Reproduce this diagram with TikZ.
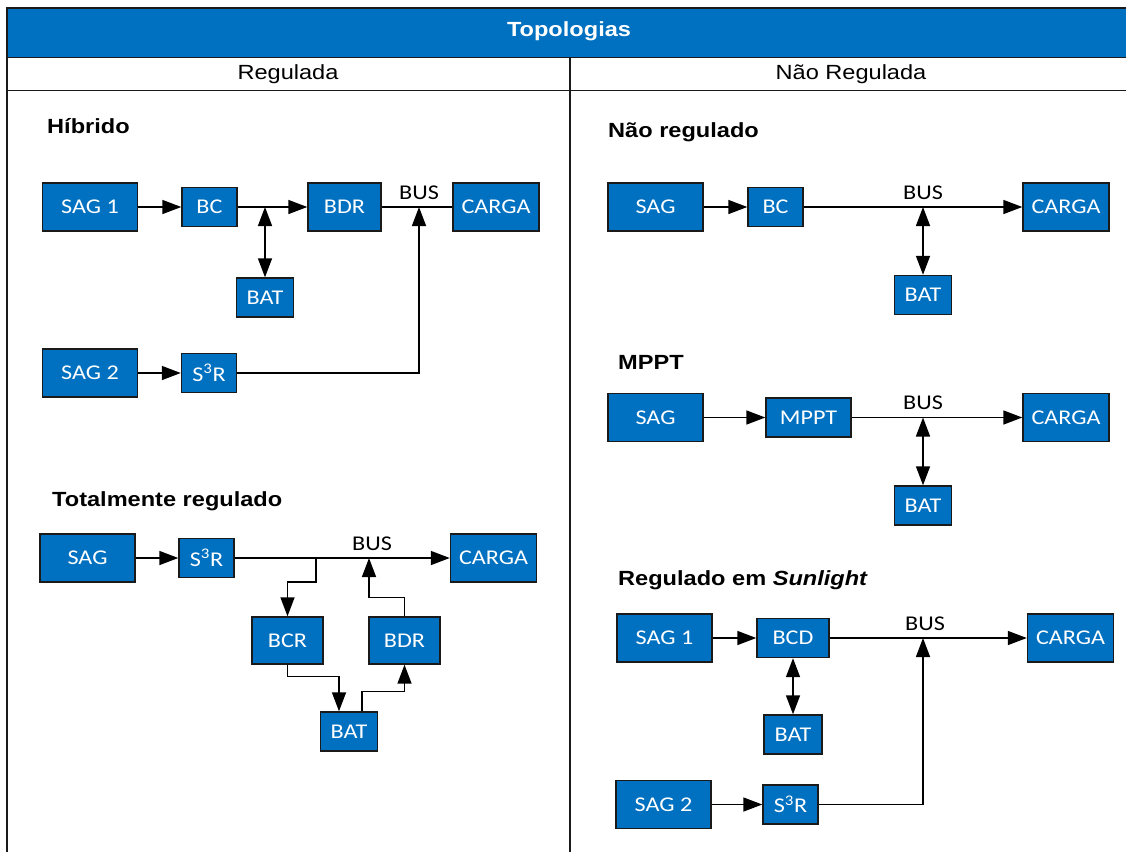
\documentclass[tikz,border=0pt]{standalone}
\usepackage{fontspec}
\usetikzlibrary{arrows.meta}
\newfontfamily\boxfont[FakeStretch=1.15]{Carlito}
\newfontfamily\headfont[FakeStretch=1.15]{Liberation Sans}
\definecolor{boxblue}{HTML}{0070C0}
\definecolor{edge}{HTML}{1A1A1A}
\tikzset{
  blk/.style={draw=edge, line width=1.4pt, fill=boxblue, text=white, inner sep=0pt,
    font=\boxfont\fontsize{21}{24}\selectfont},
  wide/.style={blk, minimum width=95pt, minimum height=48pt},
  conv/.style={blk, minimum width=55pt, minimum height=39pt},
  load/.style={blk, minimum width=86pt, minimum height=48pt},
  batt/.style={blk, minimum width=57pt, minimum height=39pt},
  busl/.style={font=\boxfont\fontsize{21}{24}\selectfont, inner sep=0pt, anchor=base},
  ttl/.style={font=\headfont\bfseries\fontsize{20.5}{24}\selectfont, inner sep=0pt, anchor=base west},
  wire/.style={line width=1.5pt, draw=black},
  tip/.tip={Triangle[length=19pt, width=14pt]},
  arr/.style={wire, -tip},
  dbl/.style={wire, tip-tip},
  grid/.style={line width=1.8pt, draw=edge},
}
\begin{document}
\begin{tikzpicture}[x=1pt, y=-1pt]
\useasboundingbox (0,0) rectangle (1126,852);

% table frame
\fill[boxblue] (7,8) rectangle (1126,57.5);
\draw[grid] (1126,8) -- (7,8) -- (7,852);
\draw[grid] (7,57.5) -- (1126,57.5);
\draw[grid] (7,90.5) -- (1126,90.5);
\draw[grid] (570,57.5) -- (570,852);
\node[font=\headfont\bfseries\fontsize{20.5}{24}\selectfont, text=white] (head) at (569,31) {Topologias};
\node[font=\headfont\fontsize{20.5}{24}\selectfont] (colL) at (288,74) {Regulada};
\node[font=\headfont\fontsize{20.5}{24}\selectfont] (colR) at (851,74) {Não Regulada};

% ---------- Híbrido ----------
\node[ttl] (tH) at (47,133) {Híbrido};
\node[wide] (h_sag1) at (90,207) {SAG 1};
\node[conv] (h_bc) at (209.5,207) {BC};
\node[blk, minimum width=73pt, minimum height=48pt] (h_bdr) at (344.5,207) {BDR};
\node[load] (h_carga) at (496,207) {CARGA};
\node[batt] (h_bat) at (265,297.5) {BAT};
\node[wide] (h_sag2) at (90,373) {SAG 2};
\node[conv] (h_s3r) at (209,373) {S\textsuperscript{3}R};
\coordinate (h_j) at (265,207);
\coordinate (h_bus) at (419,207);
\node[busl] (h_busl) at (419,199) {BUS};
\draw[arr] (h_sag1) -- (h_bc);
\draw[arr] (h_bc) -- (h_bdr);
\draw[wire] (h_bdr) -- (h_carga);
\draw[dbl] (h_j) -- (h_bat);
\draw[arr] (h_sag2) -- (h_s3r);
\draw[arr] (h_s3r.east) -| (h_bus);

% ---------- Totalmente regulado ----------
\node[ttl] (tT) at (52,506) {Totalmente regulado};
\node[wide] (t_sag) at (87.5,558) {SAG};
\node[conv] (t_s3r) at (206.5,558) {S\textsuperscript{3}R};
\node[load] (t_carga) at (493.5,558) {CARGA};
\node[blk, minimum width=71pt, minimum height=47pt] (t_bcr) at (287.5,640.5) {BCR};
\node[blk, minimum width=71pt, minimum height=47pt] (t_bdr) at (404.5,640.5) {BDR};
\node[batt] (t_bat) at (349,731.5) {BAT};
\coordinate (t_j1) at (316,558);
\coordinate (t_j2) at (369,558);
\node[busl] (t_busl) at (372,550) {BUS};
\draw[arr] (t_sag) -- (t_s3r);
\draw[arr] (t_s3r) -- (t_carga);
\draw[arr] (t_j1) -- ++(0,24) -| (t_bcr.north);
\draw[arr] (t_bdr.north) -- ++(0,-19) -| (t_j2);
\draw[arr] (t_bcr.south) -- ++(0,12) -| ([xshift=-10pt]t_bat.north);
\draw[arr] ([xshift=13pt]t_bat.north) -- ++(0,-20) -| (t_bdr.south);

% ---------- Não regulado ----------
\node[ttl] (tN) at (608,137) {Não regulado};
\node[wide] (n_sag) at (655.5,207) {SAG};
\node[conv] (n_bc) at (775.5,207) {BC};
\node[load] (n_carga) at (1066,207) {CARGA};
\node[batt] (n_bat) at (923,295) {BAT};
\coordinate (n_j) at (923,207);
\node[busl] (n_busl) at (923,199) {BUS};
\draw[arr] (n_sag) -- (n_bc);
\draw[arr] (n_bc) -- (n_carga);
\draw[dbl] (n_j) -- (n_bat);

% ---------- MPPT ----------
\node[ttl] (tM) at (618,369) {MPPT};
\node[wide] (m_sag) at (655.5,417.5) {SAG};
\node[blk, minimum width=85pt, minimum height=39pt] (m_mppt) at (808.5,417.5) {MPPT};
\node[load] (m_carga) at (1066,417.5) {CARGA};
\node[batt] (m_bat) at (923,505.5) {BAT};
\coordinate (m_j) at (923,417.5);
\node[busl] (m_busl) at (923,409.5) {BUS};
\draw[arr] (m_sag) -- (m_mppt);
\draw[arr] (m_mppt) -- (m_carga);
\draw[dbl] (m_j) -- (m_bat);

% ---------- Regulado em Sunlight ----------
\node[ttl] (tS) at (618,585) {Regulado em \textit{Sunlight}};
\node[wide] (s_sag1) at (664.5,638) {SAG 1};
\node[blk, minimum width=72pt, minimum height=39pt] (s_bcd) at (793,638) {BCD};
\node[load] (s_carga) at (1070.5,638) {CARGA};
\node[blk, minimum width=58pt, minimum height=39pt] (s_bat) at (793,734.5) {BAT};
\node[wide] (s_sag2) at (663.5,804.5) {SAG 2};
\node[conv] (s_s3r) at (790.5,804.5) {S\textsuperscript{3}R};
\coordinate (s_bus) at (923,638);
\node[busl] (s_busl) at (925,630) {BUS};
\draw[arr] (s_sag1) -- (s_bcd);
\draw[arr] (s_bcd) -- (s_carga);
\draw[dbl] (s_bcd) -- (s_bat);
\draw[arr] (s_sag2) -- (s_s3r);
\draw[arr] (s_s3r.east) -| (s_bus);
\end{tikzpicture}
\end{document}
